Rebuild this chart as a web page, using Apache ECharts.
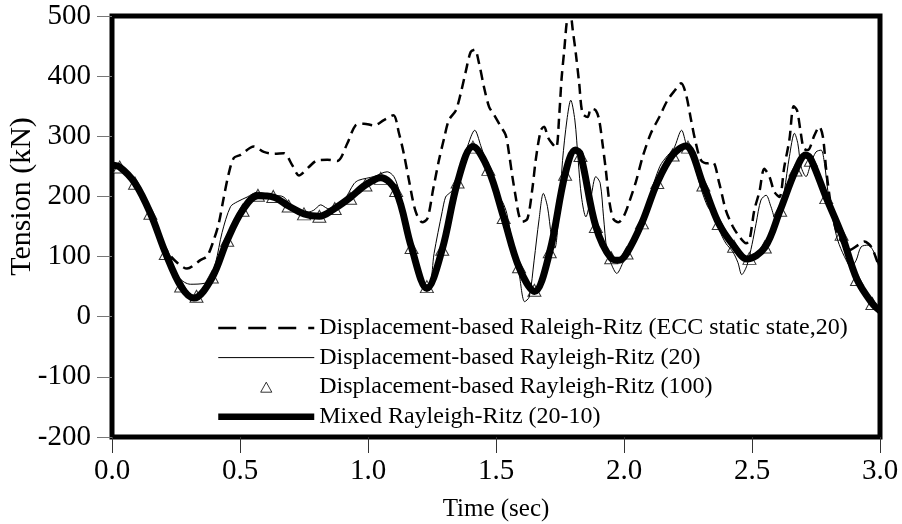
<!DOCTYPE html>
<html>
<head>
<meta charset="utf-8">
<script src="https://cdn.jsdelivr.net/npm/echarts@6/dist/echarts.min.js"></script>
<style>
  html, body { margin: 0; padding: 0; background: #fff; }
  #chart { width: 902px; height: 524px; }
</style>
</head>
<body>
<div id="chart"></div>
<script>
// time (sec), tension (kN)
const eccStatic = [
  [0, 252], [0.06, 238], [0.12, 200], [0.18, 140], [0.22, 106], [0.257, 89], [0.293, 80],
  [0.345, 94], [0.372, 101], [0.397, 127], [0.417, 155], [0.436, 197], [0.456, 238],
  [0.476, 264], [0.502, 269], [0.554, 283], [0.593, 274], [0.632, 271], [0.671, 272],
  [0.704, 252], [0.73, 235], [0.769, 249], [0.802, 260], [0.841, 261], [0.88, 259],
  [0.919, 288], [0.951, 318], [0.984, 321], [1.023, 318], [1.062, 327], [1.099, 335],
  [1.121, 305], [1.14, 271], [1.16, 227], [1.186, 175], [1.212, 157], [1.232, 163],
  [1.255, 213], [1.277, 260], [1.298, 298], [1.316, 327], [1.343, 343], [1.362, 371],
  [1.382, 408], [1.401, 440], [1.417, 444], [1.434, 421], [1.453, 382], [1.473, 349],
  [1.492, 336], [1.519, 316], [1.538, 302], [1.551, 271], [1.564, 233], [1.577, 199],
  [1.59, 168], [1.603, 158], [1.623, 163], [1.643, 216], [1.655, 260], [1.675, 310],
  [1.688, 316], [1.703, 298], [1.721, 287], [1.735, 281], [1.747, 335], [1.756, 395],
  [1.767, 445], [1.778, 495], [1.789, 508], [1.8, 476], [1.812, 437], [1.825, 388],
  [1.838, 338], [1.858, 332], [1.871, 346], [1.89, 343], [1.903, 327], [1.916, 288],
  [1.929, 244], [1.942, 194], [1.958, 163], [1.978, 157], [2.0, 168], [2.02, 190],
  [2.047, 225], [2.073, 266], [2.105, 305], [2.138, 332], [2.17, 360], [2.2, 377],
  [2.223, 388], [2.242, 370], [2.262, 327], [2.281, 288], [2.301, 260], [2.327, 255],
  [2.347, 257], [2.372, 222], [2.398, 177], [2.425, 150], [2.451, 133], [2.477, 122],
  [2.49, 127], [2.509, 177], [2.529, 208], [2.548, 246], [2.568, 233], [2.587, 208],
  [2.607, 199], [2.626, 249], [2.646, 294], [2.663, 350], [2.676, 343], [2.689, 310],
  [2.702, 280], [2.718, 277], [2.744, 302], [2.763, 316], [2.777, 299], [2.79, 244],
  [2.809, 183], [2.829, 144], [2.855, 122], [2.881, 111], [2.914, 119], [2.939, 125],
  [2.966, 116], [2.992, 89], [3.0, 82]
]

const rr20 = [
  [0, 252], [0.06, 238], [0.12, 200], [0.18, 140], [0.22, 100], [0.264, 64], [0.306, 54],
  [0.365, 56], [0.384, 66], [0.405, 90], [0.43, 140], [0.463, 183], [0.489, 191],
  [0.528, 199], [0.567, 207], [0.626, 202], [0.671, 199], [0.71, 177], [0.749, 172],
  [0.788, 177], [0.815, 186], [0.841, 180], [0.867, 178], [0.906, 193], [0.945, 221],
  [0.964, 227], [1.023, 233], [1.075, 241], [1.101, 233], [1.121, 210], [1.154, 150],
  [1.186, 89], [1.219, 53], [1.242, 55], [1.258, 105], [1.29, 175], [1.303, 199],
  [1.317, 205], [1.335, 212], [1.352, 225], [1.37, 252], [1.388, 282], [1.417, 310],
  [1.44, 285], [1.47, 245], [1.5, 205], [1.525, 191], [1.542, 172], [1.565, 120],
  [1.59, 72], [1.612, 25], [1.63, 33], [1.649, 94], [1.668, 161], [1.685, 205],
  [1.701, 183], [1.717, 133], [1.73, 114], [1.745, 170], [1.76, 260], [1.777, 327],
  [1.792, 360], [1.808, 327], [1.821, 260], [1.834, 199], [1.851, 166], [1.871, 199],
  [1.89, 233], [1.907, 222], [1.92, 166], [1.933, 111], [1.949, 89], [1.972, 72],
  [1.995, 89], [2.02, 111], [2.07, 155], [2.1, 200], [2.14, 250], [2.17, 268],
  [2.195, 280], [2.225, 310], [2.245, 285], [2.262, 277], [2.281, 244], [2.301, 213],
  [2.327, 183], [2.347, 172], [2.372, 144], [2.398, 122], [2.425, 108], [2.445, 90],
  [2.46, 70], [2.48, 85], [2.5, 120], [2.516, 155], [2.535, 194], [2.555, 202],
  [2.574, 183], [2.594, 161], [2.613, 172], [2.627, 210], [2.646, 266], [2.666, 305],
  [2.679, 288], [2.692, 249], [2.711, 233], [2.73, 255], [2.75, 274], [2.77, 277],
  [2.783, 255], [2.796, 210], [2.816, 161], [2.835, 127], [2.861, 100], [2.887, 83],
  [2.907, 94], [2.926, 116], [2.953, 119], [2.979, 105], [3.0, 75]
]

const rr100Time = [
  0.03, 0.09, 0.15, 0.21, 0.27, 0.33, 0.39, 0.45, 0.51, 0.57,
  0.63, 0.69, 0.75, 0.81, 0.87, 0.93, 0.99, 1.05, 1.11, 1.17,
  1.23, 1.29, 1.35, 1.41, 1.47, 1.53, 1.59, 1.65, 1.71, 1.77,
  1.83, 1.89, 1.95, 2.01, 2.07, 2.13, 2.19, 2.25, 2.31, 2.37,
  2.43, 2.49, 2.55, 2.61, 2.67, 2.73, 2.79, 2.85, 2.91, 2.97
]
const rr100 = [
  249, 222, 172, 105, 51, 34, 66, 127, 177, 202,
  200, 184, 171, 167, 180, 197, 219, 230, 210, 115,
  50, 112, 224, 282, 245, 165, 83, 44, 108, 237,
  268, 150, 98, 106, 156, 223, 269, 282, 219, 155,
  117, 97, 116, 177, 244, 260, 198, 137, 62, 22
]

const mixed = [
  [0, 252], [0.03, 249], [0.09, 222], [0.15, 172], [0.21, 105], [0.27, 50], [0.32, 31],
  [0.39, 64], [0.45, 127], [0.51, 177], [0.57, 201], [0.63, 199], [0.69, 184], [0.75, 171],
  [0.81, 167], [0.87, 180], [0.93, 198], [0.99, 219], [1.05, 231], [1.11, 208], [1.17, 115],
  [1.23, 47], [1.29, 112], [1.35, 224], [1.41, 283], [1.47, 245], [1.53, 165], [1.59, 82],
  [1.65, 42], [1.71, 108], [1.77, 237], [1.81, 277], [1.83, 270], [1.89, 150], [1.95, 97],
  [1.98, 94], [2.01, 105], [2.07, 156], [2.13, 223], [2.19, 269], [2.24, 284], [2.31, 219],
  [2.37, 155], [2.43, 117], [2.48, 96], [2.55, 115], [2.61, 177], [2.67, 243], [2.71, 269],
  [2.73, 262], [2.79, 198], [2.85, 137], [2.91, 62], [2.97, 22], [3.0, 10]
]

const names = [
  "Displacement-based Raleigh-Ritz (ECC static state,20)",
  "Displacement-based Rayleigh-Ritz (20)",
  "Displacement-based Rayleigh-Ritz (100)",
  "Mixed Rayleigh-Ritz (20-10)",
]

const font = '"Liberation Serif", "Times New Roman", serif'

const chart = echarts.init(document.getElementById("chart"), null, { renderer: "canvas" })

chart.setOption({
  backgroundColor: "#fff",
  animation: false,
  grid: {
    left: 112, right: 22, top: 16, bottom: 87,
    show: true, borderColor: "#000", borderWidth: 5,
    backgroundColor: "transparent",
    containLabel: false, outerBoundsMode: "none",
  },
  legend: {
    orient: "vertical",
    left: 210, top: 311,
    itemWidth: 96, itemHeight: 10, itemGap: 5.6, itemTextGap: 7,
    symbolKeepAspect: true,
    selectedMode: false,
    textStyle: { fontFamily: font, fontSize: 24, lineHeight: 24, color: "#000" },
    data: [
      { name: names[0], itemStyle: { opacity: 0 }, lineStyle: { width: 2.5, type: [18, 12] } },
      { name: names[1], itemStyle: { opacity: 0 }, lineStyle: { width: 1 } },
      { name: names[2], icon: "path://M5,0L10,9L0,9Z",
        itemStyle: { color: "#fff", borderColor: "#000", borderWidth: 1 } },
      { name: names[3], itemStyle: { opacity: 0 }, lineStyle: { width: 6.5 } },
    ],
  },
  xAxis: {
    type: "value", min: 0, max: 3, interval: 0.5,
    name: "Time (sec)", nameLocation: "middle", nameGap: 60, nameMoveOverlap: false,
    nameTextStyle: { fontFamily: font, fontSize: 25, color: "#000" },
    axisLine: { show: false, onZero: false },
    axisTick: { show: true, inside: false, length: 16, lineStyle: { color: "#333", width: 1 } },
    axisLabel: { fontFamily: font, fontSize: 29, color: "#000", margin: 20,
      formatter: (v) => v.toFixed(1) },
    splitLine: { show: false },
  },
  yAxis: {
    type: "value", min: -200, max: 500, interval: 100,
    name: "Tension (kN)", nameLocation: "middle", nameGap: 75, nameMoveOverlap: false,
    nameTextStyle: { fontFamily: font, fontSize: 30, color: "#000", padding: [0, 0, 0, 60] },
    axisLine: { show: false, onZero: false },
    axisTick: { show: true, inside: false, length: 15, lineStyle: { color: "#777", width: 1 } },
    axisLabel: { fontFamily: font, fontSize: 29, color: "#000", margin: 21 },
    splitLine: { show: false },
  },
  series: [
    {
      name: names[0], type: "line", data: eccStatic, symbol: "none", smooth: 0.3,
      lineStyle: { color: "#000", width: 2.5, type: [10, 6] },
      itemStyle: { color: "#000" },
    },
    {
      name: names[1], type: "line", data: rr20, symbol: "none", smooth: 0.3,
      lineStyle: { color: "#000", width: 1 },
      itemStyle: { color: "#000" },
    },
    {
      name: names[3], type: "line", data: mixed, symbol: "none", smooth: 0.35,
      lineStyle: { color: "#000", width: 7 },
      itemStyle: { color: "#000" },
    },
    {
      name: names[2], type: "scatter",
      data: rr100Time.map((t, i) => [t, rr100[i]]),
      symbol: "triangle", symbolSize: [13, 12],
      itemStyle: { color: "#fff", borderColor: "#000", borderWidth: 1 },
    },
  ],
})
</script>
</body>
</html>
